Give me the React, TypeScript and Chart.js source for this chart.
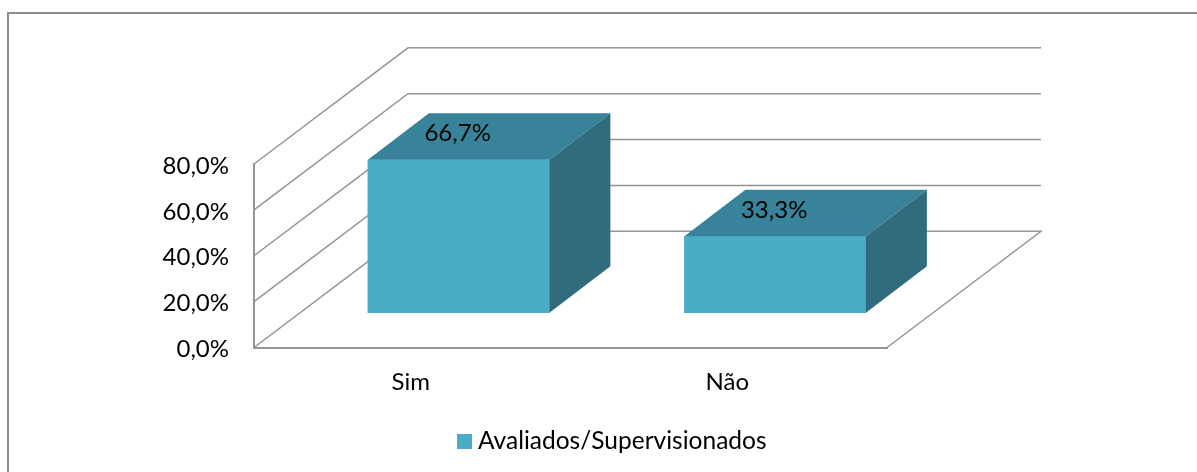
import React, { useEffect, useRef } from "react";
import { Chart, registerables } from "chart.js";

Chart.register(...registerables);

const categories = ["Sim", "Não"];
const seriesName = "Avaliados/Supervisionados";
const seriesValues = [66.7, 33.3];
const axisMax = 80;
const axisStep = 20;

const W = 1197;
const H = 472;
const FONT = "Lato, 'Noto Sans', sans-serif";
const FONT_SIZE = 24;
const LEGEND_FONT_SIZE = 24.5;
const FRONT = "#4BACC6";
const TOP = "#38839A";
const SIDE = "#306C7E";
const LINE = "#959595";
const AREA = { top: 164, bottom: 347.5, right: 887, left: 254 };
const WALL_DX = 154;
const WALL_DY = 116.2;
const BAR_SHIFT_X = 46.4;
const BAR_SHIFT_Y = 34.8;
const BAR_DX = 61;
const BAR_DY = 46.5;
const LEGEND_BOX_WIDTH = 3;
const LEGEND_PAD = 20;

const pct = (v: number) => `${v.toFixed(1).replace(".", ",")}%`;

const frame = {
  id: "frame",
  beforeDraw(chart: any) {
    const { ctx } = chart;
    ctx.save();
    ctx.fillStyle = "#fff";
    ctx.fillRect(0, 0, W, H);
    ctx.strokeStyle = "#8c8c8c";
    ctx.lineWidth = 2;
    ctx.beginPath();
    ctx.moveTo(8, H);
    ctx.lineTo(8, 13);
    ctx.lineTo(W, 13);
    ctx.stroke();
    ctx.restore();
  },
};

const walls = {
  id: "walls",
  beforeDatasetsDraw(chart: any) {
    const { ctx, scales, chartArea } = chart;
    const y = scales.y;
    ctx.save();
    ctx.strokeStyle = LINE;
    ctx.lineWidth = 1.5;
    ctx.lineJoin = "miter";
    y.ticks.forEach((t: any) => {
      const py = y.getPixelForValue(t.value);
      ctx.beginPath();
      ctx.moveTo(chartArea.left, py);
      ctx.lineTo(chartArea.left + WALL_DX, py - WALL_DY);
      ctx.lineTo(chartArea.right + WALL_DX, py - WALL_DY);
      if (t.value === 0) ctx.lineTo(chartArea.right, py);
      ctx.stroke();
    });
    ctx.restore();
  },
};

const bars3d = {
  id: "bars3d",
  beforeDatasetDraw(chart: any) {
    chart.ctx.save();
    chart.ctx.translate(BAR_SHIFT_X, -BAR_SHIFT_Y);
  },
  afterDatasetDraw(chart: any, args: any) {
    const { ctx } = chart;
    const meta = chart.getDatasetMeta(args.index);
    meta.data.forEach((bar: any, i: number) => {
      const l = bar.x - bar.width / 2;
      const r = bar.x + bar.width / 2;
      ctx.fillStyle = TOP;
      ctx.beginPath();
      ctx.moveTo(l, bar.y);
      ctx.lineTo(l + BAR_DX, bar.y - BAR_DY);
      ctx.lineTo(r + BAR_DX, bar.y - BAR_DY);
      ctx.lineTo(r, bar.y);
      ctx.closePath();
      ctx.fill();
      ctx.fillStyle = SIDE;
      ctx.beginPath();
      ctx.moveTo(r, bar.y);
      ctx.lineTo(r + BAR_DX, bar.y - BAR_DY);
      ctx.lineTo(r + BAR_DX, bar.base - BAR_DY);
      ctx.lineTo(r, bar.base);
      ctx.closePath();
      ctx.fill();
      ctx.fillStyle = "#000";
      ctx.font = `${FONT_SIZE}px ${FONT}`;
      ctx.textAlign = "center";
      ctx.textBaseline = "middle";
      ctx.fillText(pct(seriesValues[i]), bar.x - 1, bar.y - 26);
    });
    ctx.restore();
  },
};

const legendPlace = {
  id: "legendPlace",
  afterLayout(chart: any) {
    const lg = chart.legend;
    lg.left = 478 - LEGEND_BOX_WIDTH - LEGEND_FONT_SIZE / 2 - LEGEND_PAD;
    lg.right = W;
    lg.top = 441.5 - LEGEND_FONT_SIZE / 2 - LEGEND_PAD;
    lg.bottom = H;
  },
};

export default function App() {
  const ref = useRef<HTMLCanvasElement>(null);
  useEffect(() => {
    const swatch = document.createElement("canvas");
    swatch.width = 15;
    swatch.height = 15;
    const sc = swatch.getContext("2d")!;
    sc.fillStyle = FRONT;
    sc.fillRect(0, 0, 15, 15);

    const font = { family: FONT, size: FONT_SIZE };
    const chart = new Chart(ref.current!, {
      type: "bar",
      data: {
        labels: categories,
        datasets: [
          {
            label: seriesName,
            data: seriesValues,
            backgroundColor: FRONT,
            borderWidth: 0,
            barThickness: 181.5,
            clip: false,
          } as any,
        ],
      },
      plugins: [frame, walls, bars3d, legendPlace],
      options: {
        responsive: false,
        animation: false,
        layout: { padding: { left: 0, top: AREA.top, right: W - AREA.right, bottom: 0 } },
        scales: {
          x: {
            grid: { display: false, drawTicks: false },
            border: { display: true, color: LINE, width: 2 },
            ticks: { color: "#000", font, padding: 20, maxRotation: 0, labelOffset: -1.5 },
            afterFit(s: any) {
              s.height = H - AREA.bottom - (s.chart.legend?.height ?? 0);
            },
          },
          y: {
            min: 0,
            max: axisMax,
            grid: { display: false, drawTicks: false },
            border: { display: true, color: LINE, width: 2 },
            ticks: {
              color: "#000",
              font,
              stepSize: axisStep,
              padding: 25,
              labelOffset: 2,
              callback: (v: any) => pct(Number(v)),
            },
            afterFit(s: any) {
              s.width = AREA.left;
            },
          },
        },
        plugins: {
          tooltip: { enabled: false },
          legend: {
            position: "bottom",
            align: "start",
            labels: {
              color: "#000",
              font: { family: FONT, size: LEGEND_FONT_SIZE },
              padding: LEGEND_PAD,
              usePointStyle: true,
              pointStyle: swatch,
              pointStyleWidth: LEGEND_BOX_WIDTH,
            },
          },
        },
      } as any,
    });
    return () => chart.destroy();
  }, []);
  return (
    <div style={{ position: "fixed", left: 0, top: 0, width: W, height: H }}>
      <canvas ref={ref} width={W} height={H} style={{ display: "block" }} />
    </div>
  );
}
